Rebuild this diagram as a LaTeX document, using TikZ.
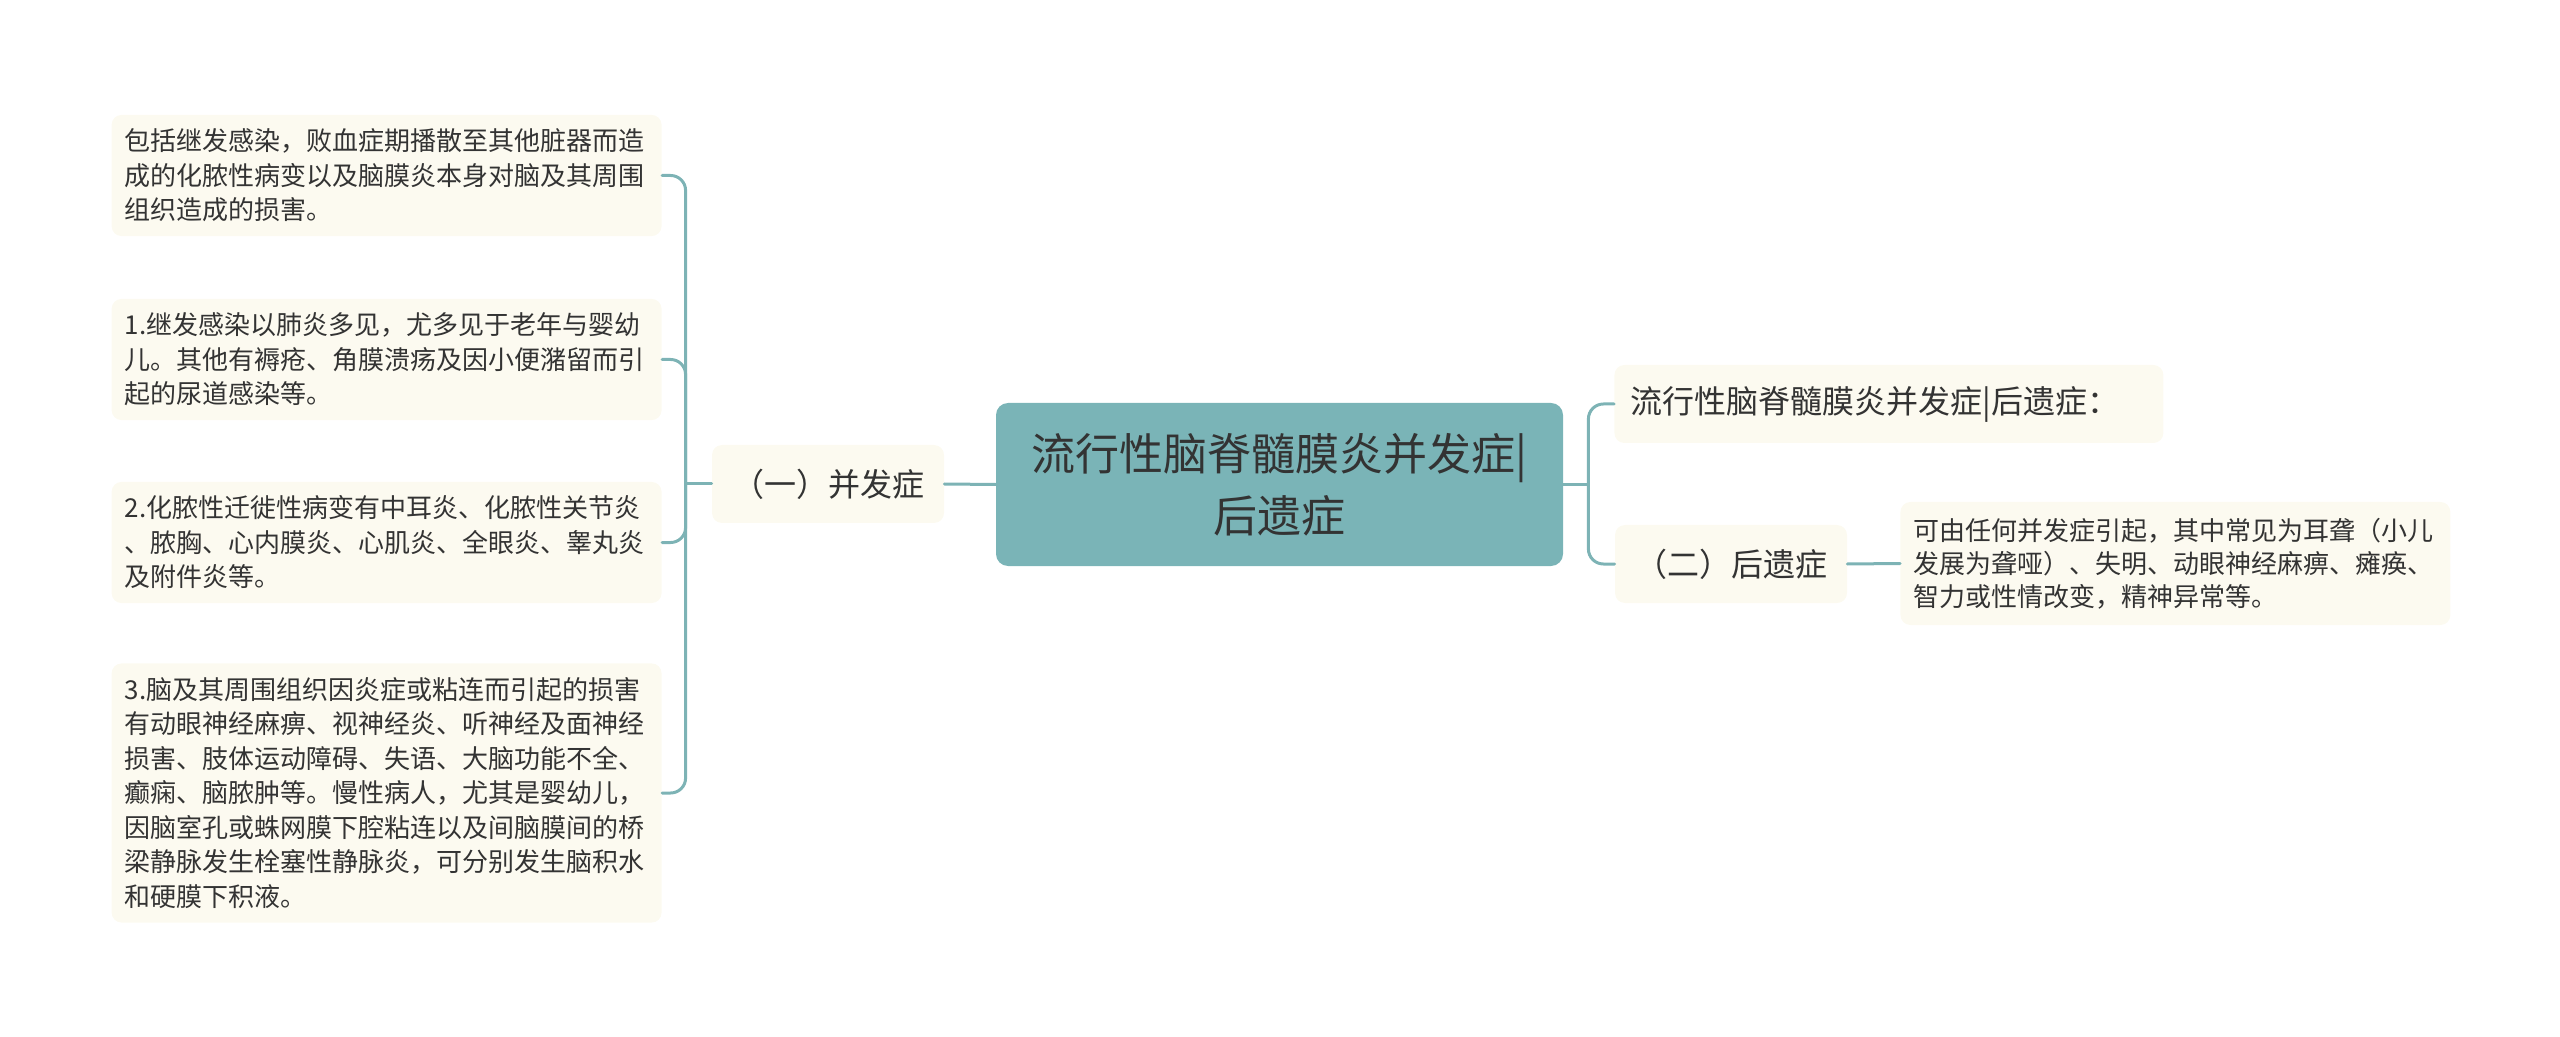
\documentclass[tikz,border=0pt]{standalone}
\usepackage{fontspec}
\setmainfont{Noto Sans CJK SC}
\definecolor{zhu}{HTML}{7AB4B7}
\definecolor{xian}{HTML}{7DB3B5}
\definecolor{ye}{HTML}{FCFAF0}
\definecolor{zi}{HTML}{333333}

\begin{document}
\begin{tikzpicture}[x=0.5pt,y=-0.5pt,line cap=round]
	\tikzstyle{zhuti}=[rounded corners=6pt,fill=zhu,text=zi,align=center,minimum width=283.5pt,minimum height=81.5pt,font=\fontsize{22pt}{31pt}\selectfont];
	\tikzstyle{fenzhi}=[rounded corners=5pt,fill=ye,text=zi,minimum width=116pt,minimum height=39pt,font=\fontsize{16pt}{20pt}\selectfont];
	\tikzstyle{yezi}=[rounded corners=5pt,fill=ye,text=zi,text width=262pt,inner xsep=6.5pt,inner ysep=7pt,align=left,font=\fontsize{13pt}{17.25pt}\selectfont];
	\tikzstyle{lian}=[draw=xian,line width=1.5pt,rounded corners=7.5pt];

	\useasboundingbox (0,0) rectangle (2560,1037);

	% centre and branches
	\node[zhuti] (root) at (1279.5,484.5) {流行性脑脊髓膜炎并发症|\\后遗症};
	\node[fenzhi] (bf) at (828,484) {（一）并发症};
	\node[fenzhi,anchor=west,text width=258.5pt,inner xsep=8pt,align=left] (tt) at (1614,404) {流行性脑脊髓膜炎并发症|后遗症：};
	\node[fenzhi] (hy) at (1731,564) {（二）后遗症};

	% leaves
	\node[yezi,anchor=east] (l1) at (662,175.5) {包括继发感染，败血症期播散至其他脏器而造\\成的化脓性病变以及脑膜炎本身对脑及其周围\\组织造成的损害。};
	\node[yezi,anchor=east] (l2) at (662,359.5) {1.继发感染以肺炎多见，尤多见于老年与婴幼\\儿。其他有褥疮、角膜溃疡及因小便潴留而引\\起的尿道感染等。};
	\node[yezi,anchor=east] (l3) at (662,542.5) {2.化脓性迁徙性病变有中耳炎、化脓性关节炎\\、脓胸、心内膜炎、心肌炎、全眼炎、睾丸炎\\及附件炎等。};
	\node[yezi,anchor=east] (l4) at (662,793) {3.脑及其周围组织因炎症或粘连而引起的损害\\有动眼神经麻痹、视神经炎、听神经及面神经\\损害、肢体运动障碍、失语、大脑功能不全、\\癫痫、脑脓肿等。慢性病人，尤其是婴幼儿，\\因脑室孔或蛛网膜下腔粘连以及间脑膜间的桥\\梁静脉发生栓塞性静脉炎，可分别发生脑积水\\和硬膜下积液。};
	\node[yezi,anchor=west,inner ysep=8pt,font=\fontsize{13pt}{16.5pt}\selectfont] (r1) at (1900,563.5) {可由任何并发症引起，其中常见为耳聋（小儿\\发展为聋哑）、失明、动眼神经麻痹、瘫痪、\\智力或性情改变，精神异常等。};

	% connectors
	\coordinate (zz) at ([xshift=-13pt]bf.west);
	\coordinate (yy) at ([xshift=12.5pt]root.east);
	\draw[lian] (bf.east) -- (root.west);
	\draw[lian] (bf.west) -- (zz);
	\foreach \l in {l1,l2,l3,l4}
		\draw[lian] (zz) |- (\l.east);
	\draw[lian] (root.east) -- (yy);
	\draw[lian] (yy) |- (tt.west);
	\draw[lian] (yy) |- (hy.west);
	\draw[lian] (hy.east) -- (r1.west);
\end{tikzpicture}
\end{document}
